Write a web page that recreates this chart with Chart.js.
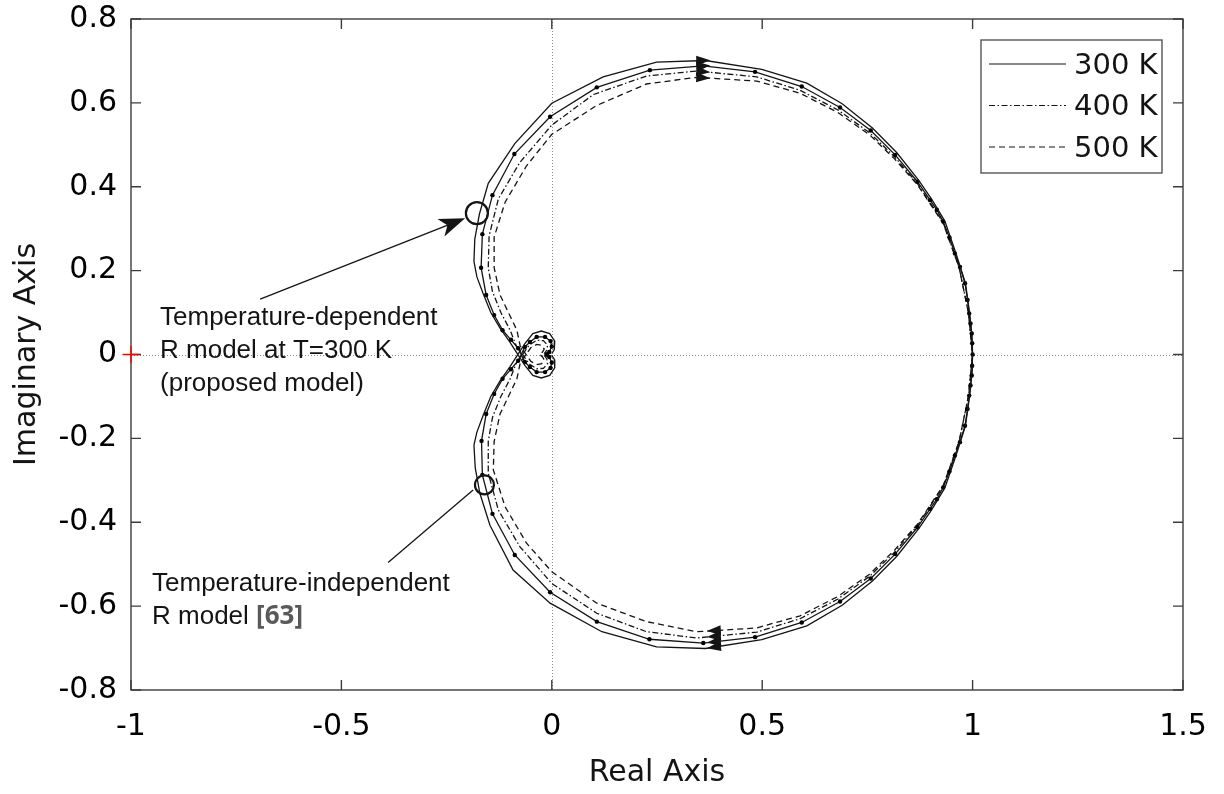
<!DOCTYPE html>
<html>
<head>
<meta charset="utf-8">
<title>Nyquist diagram</title>
<script src="https://cdn.jsdelivr.net/npm/chart.js@4.4.1/dist/chart.umd.min.js"></script>
<style>
  html, body { margin: 0; padding: 0; background: #fff; }
</style>
</head>
<body>
<canvas id="nyquist" width="1224" height="794"></canvas>
<script>
const X_TICKS = [-1, -0.5, 0, 0.5, 1, 1.5];
const Y_TICKS = [-0.8, -0.6, -0.4, -0.2, 0, 0.2, 0.4, 0.6, 0.8];

// each path runs from the high-frequency end (w -> -inf) over (1, 0) back to the origin (w -> +inf)
const RE_300K = [
  0.000, 0.006, 0.007, -0.005, -0.025, -0.045, -0.064, -0.100, -0.123, -0.145, -0.163, -0.178,
  -0.185, -0.183, -0.172, -0.151, -0.088, 0.000, 0.122, 0.249, 0.365, 0.499, 0.606, 0.690,
  0.762, 0.820, 0.872, 0.903, 0.934, 0.960, 0.983, 0.993, 0.998, 1.000,
  0.998, 0.993, 0.983, 0.960, 0.934, 0.903, 0.872, 0.820, 0.762, 0.690, 0.606, 0.499,
  0.365, 0.249, 0.119, -0.004, -0.092, -0.147, -0.171, -0.182, -0.185, -0.178, -0.163, -0.145,
  -0.123, -0.100, -0.064, -0.045, -0.025, -0.005, 0.007, 0.006, 0.000
];
const IM_300K = [
  -0.002, -0.012, -0.032, -0.050, -0.056, -0.050, -0.026, 0.030, 0.063, 0.100, 0.145, 0.185,
  0.222, 0.275, 0.335, 0.408, 0.503, 0.599, 0.662, 0.697, 0.701, 0.680, 0.647, 0.598,
  0.540, 0.481, 0.415, 0.370, 0.318, 0.243, 0.170, 0.098, 0.050, 0.000,
  -0.050, -0.098, -0.170, -0.243, -0.318, -0.370, -0.415, -0.481, -0.540, -0.598, -0.647, -0.680,
  -0.701, -0.697, -0.661, -0.593, -0.514, -0.407, -0.331, -0.270, -0.216, -0.185, -0.145, -0.100,
  -0.063, -0.030, 0.026, 0.050, 0.056, 0.050, 0.032, 0.012, 0.002
];

const RE_400K = [
  -0.018, -0.012, -0.010, -0.020, -0.036, -0.054, -0.085, -0.099, -0.121, -0.141, -0.151, -0.149,
  -0.127, -0.076, 0.000, 0.099, 0.225, 0.345, 0.487, 0.590, 0.680, 0.755, 0.814, 0.868,
  0.930, 0.968, 0.990, 1.000,
  0.990, 0.968, 0.930, 0.868, 0.814, 0.755, 0.680, 0.590, 0.487, 0.345, 0.225, 0.107,
  0.000, -0.076, -0.127, -0.151, -0.151, -0.141, -0.121, -0.099, -0.085, -0.054, -0.036, -0.020,
  -0.010, -0.012, -0.018
];
const IM_400K = [
  -0.002, -0.010, -0.022, -0.033, -0.034, -0.022, 0.022, 0.058, 0.100, 0.150, 0.207, 0.283,
  0.371, 0.458, 0.547, 0.620, 0.664, 0.676, 0.662, 0.630, 0.583, 0.529, 0.472, 0.409,
  0.315, 0.208, 0.100, 0.000,
  -0.100, -0.208, -0.315, -0.409, -0.472, -0.529, -0.583, -0.630, -0.662, -0.676, -0.661, -0.617,
  -0.546, -0.458, -0.371, -0.283, -0.207, -0.150, -0.100, -0.058, -0.022, 0.022, 0.034, 0.033,
  0.022, 0.010, 0.002
];

const RE_500K = [
  -0.027, -0.022, -0.018, -0.024, -0.036, -0.050, -0.075, -0.083, -0.103, -0.123, -0.137, -0.137,
  -0.111, -0.060, 0.000, 0.107, 0.225, 0.344, 0.487, 0.590, 0.680, 0.755, 0.814, 0.868,
  0.930, 0.968, 0.990, 1.000,
  0.990, 0.968, 0.930, 0.868, 0.814, 0.755, 0.680, 0.590, 0.487, 0.344, 0.225, 0.107,
  0.000, -0.060, -0.111, -0.139, -0.137, -0.123, -0.103, -0.083, -0.075, -0.050, -0.036, -0.024,
  -0.018, -0.022, -0.027
];
const IM_500K = [
  -0.001, -0.006, -0.013, -0.022, -0.024, -0.016, 0.020, 0.058, 0.100, 0.142, 0.207, 0.280,
  0.363, 0.450, 0.525, 0.594, 0.645, 0.661, 0.652, 0.623, 0.577, 0.524, 0.467, 0.406,
  0.313, 0.207, 0.100, 0.000,
  -0.100, -0.207, -0.313, -0.406, -0.467, -0.524, -0.577, -0.623, -0.652, -0.661, -0.637, -0.593,
  -0.518, -0.450, -0.363, -0.275, -0.207, -0.142, -0.100, -0.058, -0.020, 0.016, 0.024, 0.022,
  0.013, 0.006, 0.001
];

// temperature-independent R model, sampled points shown as dots
const RE_REF = [
  -0.012, -0.006, 0.000, -0.003, -0.016, -0.036, -0.052, -0.064, -0.080, -0.097, -0.117, -0.137,
  -0.156, -0.168, -0.165, -0.141, -0.089, -0.004, 0.107, 0.233, 0.360, 0.483, 0.594, 0.685,
  0.758, 0.816, 0.869, 0.899, 0.915, 0.930, 0.945, 0.958, 0.970, 0.982, 0.988, 0.992,
  0.995, 0.998, 0.999, 1.000,
  0.999, 0.998, 0.995, 0.992, 0.988, 0.982, 0.970, 0.958, 0.945, 0.930, 0.915, 0.899,
  0.869, 0.816, 0.758, 0.685, 0.594, 0.483, 0.360, 0.232, 0.107, -0.004, -0.088, -0.141,
  -0.165, -0.167, -0.156, -0.137, -0.117, -0.097, -0.080, -0.064, -0.052, -0.036, -0.016, -0.003,
  0.000, -0.006, -0.012
];
const IM_REF = [
  0.000, -0.006, -0.019, -0.032, -0.042, -0.042, -0.030, -0.018, 0.015, 0.035, 0.058, 0.094,
  0.142, 0.207, 0.287, 0.380, 0.478, 0.567, 0.637, 0.678, 0.688, 0.674, 0.639, 0.589,
  0.534, 0.476, 0.412, 0.368, 0.345, 0.317, 0.279, 0.241, 0.209, 0.170, 0.130, 0.098,
  0.074, 0.050, 0.027, 0.000,
  -0.027, -0.050, -0.074, -0.098, -0.130, -0.170, -0.209, -0.241, -0.279, -0.317, -0.345, -0.368,
  -0.412, -0.476, -0.534, -0.589, -0.639, -0.674, -0.688, -0.679, -0.637, -0.567, -0.478, -0.380,
  -0.287, -0.206, -0.142, -0.094, -0.058, -0.035, -0.015, 0.018, 0.030, 0.042, 0.042, 0.032,
  0.019, 0.006, 0.000
];

// circled operating points and the critical point
const MARK_RE = [-0.178, -0.160];
const MARK_IM = [0.337, -0.311];
const CRIT_RE = [-1];
const CRIT_IM = [0];

const NOTE_DEP = ['Temperature-dependent', 'R model at T=300 K', '(proposed model)'];
const NOTE_INDEP = ['Temperature-independent', 'R model '];
const NOTE_CITE = '[63]';

const FONT = '"DejaVu Sans", sans-serif';
const INK = '#141414';

const curves = [
  { label: '300 K', re: RE_300K, im: IM_300K, dash: [], dot: 0, legend: true },
  { label: 'R model [63]', re: RE_REF, im: IM_REF, dash: [], dot: 2.2, legend: false },
  { label: '400 K', re: RE_400K, im: IM_400K, dash: [6, 2.5, 1.5, 2.5], dot: 0, legend: true },
  { label: '500 K', re: RE_500K, im: IM_500K, dash: [6, 4], dot: 0, legend: true },
];

function toPoints(re, im) {
  return re.map((x, i) => ({ x: x, y: im[i] }));
}

function px(chart, re, im) {
  return [chart.scales.x.getPixelForValue(re), chart.scales.y.getPixelForValue(im)];
}

function head(ctx, tx, ty, ux, uy, len, half, notch) {
  const nx = -uy, ny = ux;
  const bx = tx - ux * len, by = ty - uy * len;
  ctx.beginPath();
  ctx.moveTo(tx, ty);
  ctx.lineTo(bx + nx * half, by + ny * half);
  ctx.lineTo(tx - ux * (len - notch), ty - uy * (len - notch));
  ctx.lineTo(bx - nx * half, by - ny * half);
  ctx.closePath();
  ctx.fill();
}

// direction arrow where a branch passes the given real part
function branchArrow(chart, c, target, upper) {
  const { re, im } = c;
  for (let i = 0; i < re.length - 1; i++) {
    const ok = upper ? (im[i] > 0.5 && im[i + 1] > 0.5) : (im[i] < -0.5 && im[i + 1] < -0.5);
    if (!ok || re[i] === re[i + 1]) continue;
    if ((re[i] - target) * (re[i + 1] - target) > 0) continue;
    const t = (target - re[i]) / (re[i + 1] - re[i]);
    const [x1, y1] = px(chart, re[i], im[i]);
    const [x2, y2] = px(chart, re[i + 1], im[i + 1]);
    const d = Math.hypot(x2 - x1, y2 - y1);
    const ux = (x2 - x1) / d, uy = (y2 - y1) / d;
    const cx = x1 + (x2 - x1) * t, cy = y1 + (y2 - y1) * t;
    head(chart.ctx, cx + ux * 7, cy + uy * 7, ux, uy, 14, 5, 0);
    return;
  }
}

const axesBox = {
  id: 'axesBox',
  beforeDatasetsDraw(chart) {
    const { ctx, chartArea: a, scales: { x, y } } = chart;
    ctx.save();
    // dotted lines through the origin
    ctx.strokeStyle = '#8a8a8a';
    ctx.lineWidth = 1;
    ctx.setLineDash([1, 2]);
    const x0 = Math.round(x.getPixelForValue(0)) + 0.5;
    const y0 = Math.round(y.getPixelForValue(0)) + 0.5;
    ctx.beginPath();
    ctx.moveTo(x0, a.top); ctx.lineTo(x0, a.bottom);
    ctx.moveTo(a.left, y0); ctx.lineTo(a.right, y0);
    ctx.stroke();
    // box with inward ticks on all four sides
    ctx.setLineDash([]);
    ctx.strokeStyle = '#3c3c3c';
    ctx.lineWidth = 1.4;
    ctx.strokeRect(a.left, a.top, a.right - a.left, a.bottom - a.top);
    ctx.beginPath();
    X_TICKS.forEach(v => {
      const p = x.getPixelForValue(v);
      ctx.moveTo(p, a.bottom); ctx.lineTo(p, a.bottom - 10);
      ctx.moveTo(p, a.top); ctx.lineTo(p, a.top + 10);
    });
    Y_TICKS.forEach(v => {
      const p = y.getPixelForValue(v);
      ctx.moveTo(a.left, p); ctx.lineTo(a.left + 10, p);
      ctx.moveTo(a.right, p); ctx.lineTo(a.right - 10, p);
    });
    ctx.stroke();
    ctx.restore();
  },
  afterDatasetsDraw(chart) {
    const ctx = chart.ctx;
    ctx.save();
    ctx.fillStyle = INK;
    curves.forEach(c => {
      branchArrow(chart, c, 0.36, true);
      branchArrow(chart, c, 0.385, false);
    });

    // pointer to the proposed-model point
    ctx.strokeStyle = INK;
    ctx.lineWidth = 1.3;
    const [sx, sy] = px(chart, -0.693, 0.132);
    const [tx, ty] = px(chart, -0.206, 0.325);
    const d = Math.hypot(tx - sx, ty - sy);
    const ux = (tx - sx) / d, uy = (ty - sy) / d;
    ctx.beginPath();
    ctx.moveTo(sx, sy);
    ctx.lineTo(tx - ux * 18, ty - uy * 18);
    ctx.stroke();
    head(ctx, tx, ty, ux, uy, 26, 9.5, 7);

    // pointer to the reference-model point
    const [ax, ay] = px(chart, -0.389, -0.496);
    const [bx, by] = px(chart, -0.187, -0.323);
    ctx.beginPath();
    ctx.moveTo(ax, ay);
    ctx.lineTo(bx, by);
    ctx.stroke();

    ctx.font = '26px "Liberation Sans", Arial, sans-serif';
    ctx.textAlign = 'left';
    ctx.textBaseline = 'alphabetic';
    const [nx, ny] = px(chart, -0.931, 0.070);
    NOTE_DEP.forEach((t, i) => ctx.fillText(t, nx, ny + i * 33));
    const [mx, my] = px(chart, -0.950, -0.563);
    NOTE_INDEP.forEach((t, i) => ctx.fillText(t, mx, my + i * 33));
    const w = ctx.measureText(NOTE_INDEP[1]).width;
    ctx.font = 'bold 26px "Open Sans", "Liberation Sans", sans-serif';
    ctx.fillStyle = '#595959';
    ctx.fillText(NOTE_CITE, mx + w, my + 33);
    ctx.restore();
  },
  afterDraw(chart) {
    const { ctx, chartArea: a } = chart;
    const w = 181, h = 133;
    const lx = a.right - 21 - w, ly = a.top + 21;
    ctx.save();
    ctx.fillStyle = '#fff';
    ctx.fillRect(lx, ly, w, h);
    ctx.strokeStyle = '#555';
    ctx.lineWidth = 1.4;
    ctx.strokeRect(lx, ly, w, h);
    ctx.font = '29px ' + FONT;
    ctx.textBaseline = 'middle';
    ctx.textAlign = 'left';
    curves.filter(c => c.legend).forEach((c, i) => {
      const ry = ly + 24 + i * 41.5;
      ctx.strokeStyle = INK;
      ctx.lineWidth = 1.2;
      ctx.setLineDash(c.dash);
      ctx.beginPath();
      ctx.moveTo(lx + 8, ry);
      ctx.lineTo(lx + 85, ry);
      ctx.stroke();
      ctx.fillStyle = INK;
      ctx.fillText(c.label, lx + 93, ry + 2);
    });
    ctx.restore();
  }
};

const datasets = [
  {
    label: 'marked points',
    data: toPoints(MARK_RE, MARK_IM),
    pointStyle: 'circle',
    pointRadius: [11, 9.5],
    pointBorderWidth: 2.2,
    pointBorderColor: INK,
    pointBackgroundColor: 'rgba(0,0,0,0)',
    showLine: false
  },
  {
    label: 'critical point',
    data: toPoints(CRIT_RE, CRIT_IM),
    pointStyle: 'cross',
    pointRadius: 8.5,
    pointBorderWidth: 1.4,
    pointBorderColor: '#ff0000',
    showLine: false,
    clip: false
  }
].concat(curves.map(c => ({
  label: c.label,
  data: toPoints(c.re, c.im),
  showLine: true,
  tension: 0,
  borderColor: INK,
  borderWidth: 1.3,
  borderDash: c.dash,
  pointRadius: c.dot,
  pointBackgroundColor: '#000',
  pointBorderWidth: 0
})));

new Chart(document.getElementById('nyquist'), {
  type: 'scatter',
  data: { datasets: datasets },
  options: {
    responsive: false,
    devicePixelRatio: 1,
    animation: false,
    events: [],
    layout: { padding: { top: 19, right: 41, left: 0, bottom: 0 } },
    plugins: { legend: { display: false }, tooltip: { enabled: false } },
    scales: {
      x: {
        type: 'linear',
        min: X_TICKS[0],
        max: X_TICKS[X_TICKS.length - 1],
        afterBuildTicks: s => { s.ticks = X_TICKS.map(v => ({ value: v })); },
        afterFit: s => { s.height = 104; s.paddingLeft = 0; s.paddingRight = 0; },
        grid: { display: false, drawTicks: false },
        border: { display: false },
        ticks: {
          padding: 22,
          color: '#000',
          font: { family: FONT, size: 30, lineHeight: 1 },
          maxRotation: 0,
          callback: v => String(v)
        },
        title: {
          display: true,
          text: 'Real Axis',
          color: INK,
          font: { family: FONT, size: 30, lineHeight: 1.2 },
          padding: { top: 0, bottom: 3 }
        }
      },
      y: {
        type: 'linear',
        min: Y_TICKS[0],
        max: Y_TICKS[Y_TICKS.length - 1],
        afterBuildTicks: s => { s.ticks = Y_TICKS.map(v => ({ value: v })); },
        afterFit: s => { s.width = 131; s.paddingTop = 0; s.paddingBottom = 0; },
        grid: { display: false, drawTicks: false },
        border: { display: false },
        ticks: {
          padding: 14,
          color: '#000',
          font: { family: FONT, size: 30, lineHeight: 1 },
          callback: v => String(v)
        },
        title: {
          display: true,
          text: 'Imaginary Axis',
          color: INK,
          font: { family: FONT, size: 30, lineHeight: 1.2 },
          padding: { top: 9, bottom: 0 }
        }
      }
    }
  },
  plugins: [axesBox]
});
</script>
</body>
</html>
